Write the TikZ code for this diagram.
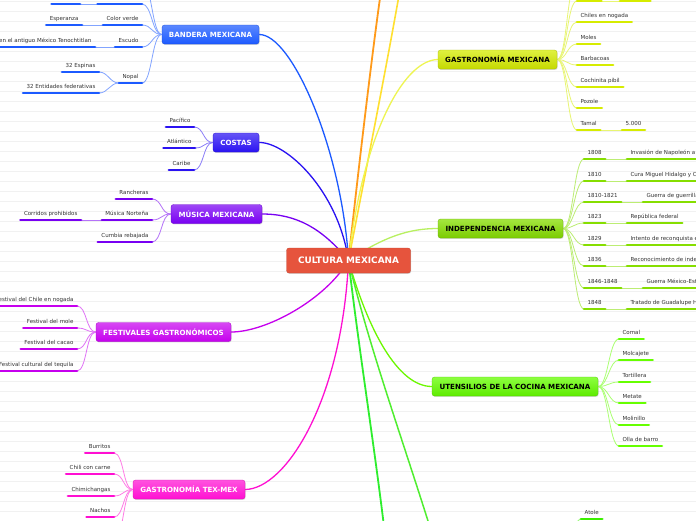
\documentclass[tikz,border=0pt]{standalone}
\usepackage{fontspec}
\setmainfont{DejaVu Sans}
\usetikzlibrary{shadows,backgrounds}
\definecolor{cCen}{HTML}{E6543D}
\definecolor{cBand}{HTML}{1C5AFF}
\definecolor{cCost}{HTML}{2A12F2}
\definecolor{cMus}{HTML}{7800F2}
\definecolor{cFest}{HTML}{C600EE}
\definecolor{cTex}{HTML}{FF0FD2}
\definecolor{cGas}{HTML}{D6EC00}
\definecolor{cGasL}{HTML}{EEF552}
\definecolor{cInd}{HTML}{86DE00}
\definecolor{cIndL}{HTML}{B8F060}
\definecolor{cUte}{HTML}{66FF00}
\definecolor{cAt}{HTML}{3CF000}
\definecolor{cOr}{HTML}{FF9A1A}
\definecolor{cYe}{HTML}{FFE030}
\definecolor{cGr1}{HTML}{2EEE2E}
\definecolor{cGr2}{HTML}{50EE30}
\definecolor{txt}{HTML}{333333}
\definecolor{rule}{HTML}{F1F1F1}
\newcommand\lfL[5]{\node[leaf=#2, anchor=south east] (#1) at (#3,#4) {#5};}
\newcommand\lfR[5]{\node[leaf=#2, anchor=south west] (#1) at (#3,#4) {#5};}
\tikzset{
  leaf/.style={font=\fontsize{5.5}{6}\selectfont, text=txt, inner xsep=3.4pt, inner ysep=3.5pt,
    text height=4pt, text depth=1pt,
    append after command={(\tikzlastnode.south west) edge[draw=#1, line width=2.8pt, line cap=round] (\tikzlastnode.south east)}},
  box/.style={rounded corners=2.5pt, minimum height=19pt, inner sep=0pt,
    font=\bfseries\fontsize{7.1}{8}\selectfont,
    drop shadow={shadow xshift=0.6pt, shadow yshift=-0.9pt, opacity=0.3}},
  boxW/.style={box, top color=#1!72!white, bottom color=#1, draw=#1!85!black, line width=0.3pt, text=white},
  boxB/.style={box, top color=#1!75!white, bottom color=#1!92!black, draw=#1!80!black, line width=0.3pt, text=black},
  cen/.style={rounded corners=2.5pt, minimum width=124pt, minimum height=25pt, inner sep=0pt,
    fill=cCen, draw=cCen!85!black, line width=0.3pt, text=white,
    font=\bfseries\fontsize{8.9}{10}\selectfont,
    drop shadow={shadow xshift=0.6pt, shadow yshift=-0.9pt, opacity=0.3}},
  lk/.style={draw=#1!55!white, line width=0.8pt},
  mc/.style={draw=#1, line width=1.3pt},
}
\begin{document}
\begin{tikzpicture}[x=1pt,y=-1pt]
\useasboundingbox (0,0) rectangle (696,520);
\begin{pgfonlayer}{background}
  \fill[white] (0,0) rectangle (696,520);
  \foreach \k in {0,...,52} \draw[rule, line width=0.6pt] (0,1.5+10*\k) -- (696,1.5+10*\k);
\end{pgfonlayer}

% central and main boxes
\node[cen] (c) at (348.5,260.5) {CULTURA MEXICANA};
\node[boxW=cBand, minimum width=97pt] (band) at (210.5,34.5) {BANDERA MEXICANA};
\node[boxW=cCost, minimum width=46pt] (cost) at (236,142.5) {COSTAS};
\node[boxW=cMus, minimum width=91pt] (mus) at (216.5,214) {MÚSICA MEXICANA};
\node[boxW=cFest, minimum width=135pt] (fest) at (163.5,332) {FESTIVALES GASTRONÓMICOS};
\node[boxW=cTex, minimum width=112pt] (tex) at (189,489.5) {GASTRONOMÍA TEX-MEX};
\node[boxB=cGas, minimum width=119pt] (gas) at (497.5,59.5) {GASTRONOMÍA MEXICANA};
\node[boxB=cInd, minimum width=125pt] (ind) at (500.5,228.5) {INDEPENDENCIA MEXICANA};
\node[boxB=cUte, minimum width=166pt] (ute) at (515,386.5) {UTENSILIOS DE LA COCINA MEXICANA};

% off-canvas ends
\coordinate (oOr) at (386,-40);
\coordinate (oYe) at (405,-40);
\coordinate (oG1) at (390,580);
\coordinate (oG2) at (446,580);
\coordinate (bev) at (566,548);

% Bandera
\node[leaf=cBand, minimum width=44pt, anchor=south east] (bm) at (142,-18) {};
\node[leaf=cBand, minimum width=44pt, anchor=south east] (b0) at (142,4) {};
\node[leaf=cBand, minimum width=28pt, anchor=south east] (b0a) at (80,4) {};
\lfL{b1}{cBand}{142}{25}{Color verde}
\lfL{b1a}{cBand}{82}{25}{Esperanza}
\lfL{b2}{cBand}{142}{47}{Escudo}
\lfL{b2a}{cBand}{95}{47}{Fundación de la ciudad en el antiguo México Tenochtitlan}
\lfL{b3}{cBand}{142}{83}{Nopal}
\lfL{b3a}{cBand}{99}{72}{32 Espinas}
\lfL{b3b}{cBand}{99}{93}{32 Entidades federativas}
% Costas
\lfL{c1}{cCost}{194}{127}{Pacífico}
\lfL{c2}{cCost}{195}{148}{Atlántico}
\lfL{c3}{cCost}{194}{170}{Caribe}
% Musica
\lfL{m1}{cMus}{152}{199}{Rancheras}
\lfL{m2}{cMus}{152}{220}{Música Norteña}
\lfL{m3}{cMus}{152}{242}{Cumbia rebajada}
\lfL{m2a}{cMus}{81}{220}{Corridos prohibidos}
% Festivales
\lfL{f1}{cFest}{77}{306}{Festival del Chile en nogada}
\lfL{f2}{cFest}{77}{328}{Festival del mole}
\lfL{f3}{cFest}{77}{349}{Festival del cacao}
\lfL{f4}{cFest}{77}{371}{Festival cultural del tequila}
% Tex-Mex
\lfL{t1}{cTex}{114}{453}{Burritos}
\lfL{t2}{cTex}{114}{474}{Chili con carne}
\lfL{t3}{cTex}{114}{496}{Chimichangas}
\lfL{t4}{cTex}{114}{517}{Nachos}
\node[leaf=cTex, minimum width=30pt, anchor=south east] (t5) at (114,540) {};
% Gastronomia mexicana
\node[leaf=cGas, minimum width=30pt, anchor=south west] (gm) at (577,-20) {};
\node[leaf=cGas, minimum width=24pt, anchor=south west] (g0) at (577,1) {};
\node[leaf=cGas, minimum width=30pt, anchor=south west] (g0a) at (620,1) {};
\lfR{g1}{cGas}{577}{22}{Chiles en nogada}
\lfR{g2}{cGas}{577}{44}{Moles}
\lfR{g3}{cGas}{577}{65}{Barbacoas}
\lfR{g4}{cGas}{577}{87}{Cochinita pibil}
\lfR{g5}{cGas}{577}{108}{Pozole}
\lfR{g6}{cGas}{577}{130}{Tamal}
\lfR{g6a}{cGas}{622}{130}{5.000}
% Independencia
\lfR{i1}{cInd}{584}{159}{1808}
\lfR{i2}{cInd}{584}{181}{1810}
\lfR{i3}{cInd}{584}{202}{1810-1821}
\lfR{i4}{cInd}{584}{223}{1823}
\lfR{i5}{cInd}{584}{245}{1829}
\lfR{i6}{cInd}{584}{266}{1836}
\lfR{i7}{cInd}{584}{288}{1846-1848}
\lfR{i8}{cInd}{584}{309}{1848}
\lfR{i1a}{cInd}{627}{159}{Invasión de Napoleón a España}
\lfR{i2a}{cInd}{627}{181}{Cura Miguel Hidalgo y Costilla}
\lfR{i3a}{cInd}{643}{202}{Guerra de guerrillas}
\lfR{i4a}{cInd}{627}{223}{República federal}
\lfR{i5a}{cInd}{627}{245}{Intento de reconquista española}
\lfR{i6a}{cInd}{627}{266}{Reconocimiento de independencia de Texas}
\lfR{i7a}{cInd}{643}{288}{Guerra México-Estados Unidos}
\lfR{i8a}{cInd}{627}{309}{Tratado de Guadalupe Hidalgo}
% Utensilios
\lfR{u1}{cUte}{619}{339}{Comal}
\lfR{u2}{cUte}{619}{360}{Molcajete}
\lfR{u3}{cUte}{619}{382}{Tortillera}
\lfR{u4}{cUte}{619}{403}{Metate}
\lfR{u5}{cUte}{619}{425}{Molinillo}
\lfR{u6}{cUte}{619}{446}{Olla de barro}
% Atole
\lfR{a1}{cAt}{581}{519}{Atole}

\begin{pgfonlayer}{background}
  % main connectors
  \draw[mc=cOr, line width=1.8pt] (c.center) .. controls (356,190) and (378,0) .. (oOr);
  \draw[mc=cYe, line width=1.6pt] (c.center) .. controls (362,190) and (392,40) .. (oYe);
  \draw[mc=cBand] (c.center) .. controls (342,150) and (292,34) .. (band.east);
  \draw[mc=cCost] (c.center) .. controls (338,190) and (286,142) .. (cost.east);
  \draw[mc=cMus] (c.center) .. controls (322,228) and (296,214) .. (mus.east);
  \draw[mc=cFest] (c.center) .. controls (325,300) and (266,332) .. (fest.east);
  \draw[mc=cTex] (c.center) .. controls (342,400) and (286,489) .. (tex.east);
  \draw[mc=cGasL] (c.center) .. controls (362,140) and (402,60) .. (gas.west);
  \draw[mc=cIndL] (c.center) .. controls (385,236) and (410,228.5) .. (ind.west);
  \draw[mc=cUte!80!cInd] (c.center) .. controls (368,330) and (398,386.5) .. (ute.west);
  \draw[mc=cGr1, line width=1.8pt] (c.center) .. controls (360,360) and (380,480) .. (oG1);
  \draw[mc=cGr2, line width=1.5pt] (c.center) .. controls (372,360) and (414,470) .. (oG2);
  % Bandera links
  \foreach \n in {bm,b0,b1,b2,b3}
    \draw[lk=cBand] (band.west) .. controls +(-10,0) and +(10,0) .. (\n.south east);
  \draw[lk=cBand] (b0.south west) -- (b0a.south east);
  \draw[lk=cBand] (b1.south west) -- (b1a.south east);
  \draw[lk=cBand] (b2.south west) -- (b2a.south east);
  \draw[lk=cBand] (b3.south west) .. controls +(-9,0) and +(9,0) .. (b3a.south east);
  \draw[lk=cBand] (b3.south west) .. controls +(-9,0) and +(9,0) .. (b3b.south east);
  % Costas links
  \foreach \n in {c1,c2,c3}
    \draw[lk=cCost] (cost.west) .. controls +(-10,0) and +(10,0) .. (\n.south east);
  % Musica links
  \foreach \n in {m1,m2,m3}
    \draw[lk=cMus] (mus.west) .. controls +(-10,0) and +(10,0) .. (\n.south east);
  \draw[lk=cMus] (m2.south west) -- (m2a.south east);
  % Festivales links
  \foreach \n in {f1,f2,f3,f4}
    \draw[lk=cFest] (fest.west) .. controls +(-10,0) and +(10,0) .. (\n.south east);
  % Tex-Mex links
  \foreach \n in {t1,t2,t3,t4,t5}
    \draw[lk=cTex] (tex.west) .. controls +(-10,0) and +(10,0) .. (\n.south east);
  % Gastronomia links
  \foreach \n in {gm,g0,g1,g2,g3,g4,g5,g6}
    \draw[lk=cGas] (gas.east) .. controls +(10,0) and +(-10,0) .. (\n.south west);
  \draw[lk=cGas] (g0.south east) -- (g0a.south west);
  \draw[lk=cGas] (g6.south east) -- (g6a.south west);
  % Independencia links
  \foreach \n in {i1,i2,i3,i4,i5,i6,i7,i8}
    \draw[lk=cInd] (ind.east) .. controls +(10,0) and +(-10,0) .. (\n.south west);
  \foreach \n in {1,...,8}
    \draw[lk=cInd] (i\n.south east) -- (i\n a.south west);
  % Utensilios links
  \foreach \n in {u1,u2,u3,u4,u5,u6}
    \draw[lk=cUte] (ute.east) .. controls +(10,0) and +(-10,0) .. (\n.south west);
  % Atole link
  \draw[lk=cAt] (bev) .. controls +(8,0) and +(-8,0) .. (a1.south west);
\end{pgfonlayer}
\end{tikzpicture}
\end{document}
